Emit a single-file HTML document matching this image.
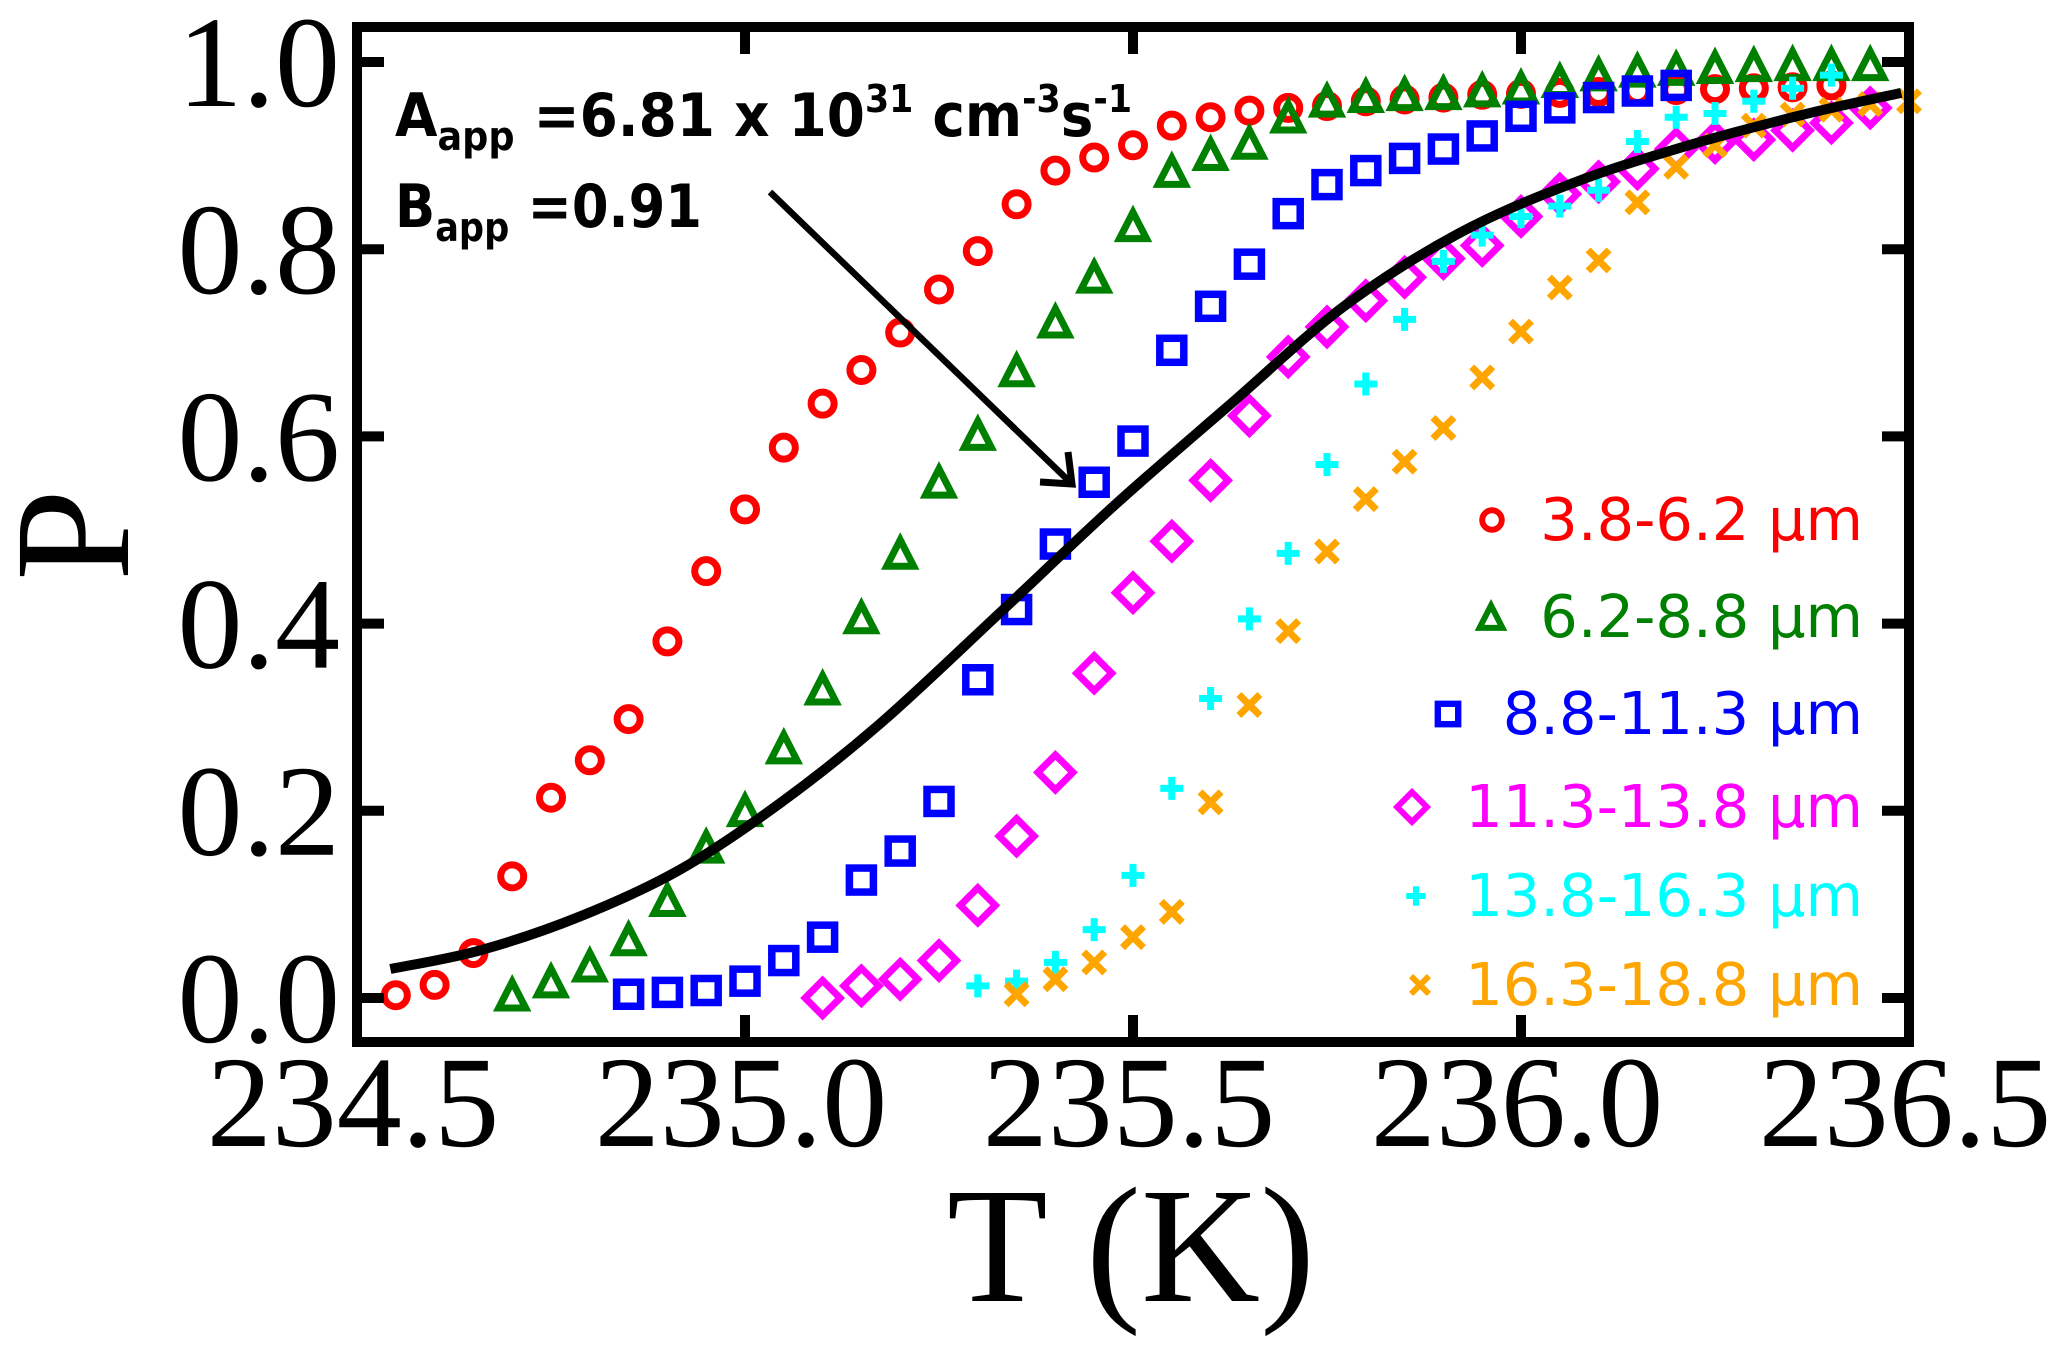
<!DOCTYPE html>
<html><head><meta charset="utf-8"><style>
html,body{margin:0;padding:0;background:#fff;}
svg{display:block;}
</style></head><body>
<svg id="chart" width="2067" height="1359" viewBox="0 0 2067 1359" xmlns="http://www.w3.org/2000/svg">
<rect x="0" y="0" width="2067" height="1359" fill="#fff"/>
<g id="marks"></g>
<g id="axes"></g>
<g font-family="'DejaVu Sans', 'Liberation Sans', sans-serif" font-weight="bold" fill="#000">
<text x="395" y="136" font-size="60" textLength="737" lengthAdjust="spacingAndGlyphs">A<tspan font-size="40" dy="14">app</tspan><tspan dy="-14"> =6.81 x 10</tspan><tspan font-size="38" dy="-24">31</tspan><tspan dy="24"> cm</tspan><tspan font-size="38" dy="-24">-3</tspan><tspan dy="24">s</tspan><tspan font-size="38" dy="-24">-1</tspan></text>
<text x="395" y="227" font-size="60" textLength="307" lengthAdjust="spacingAndGlyphs">B<tspan font-size="40" dy="14">app</tspan><tspan dy="-14"> =0.91</tspan></text>
</g>
<g stroke="#000" stroke-width="6.5" fill="none">
<line x1="770" y1="192" x2="1072" y2="484"/>
<polyline points="1040,482 1072,484 1068,452" stroke-width="7"/>
</g>
<g id="legend"></g>
</svg>
<script>
const categoriesLabels = ["3.8-6.2 μm","6.2-8.8 μm","8.8-11.3 μm","11.3-13.8 μm","13.8-16.3 μm","16.3-18.8 μm"];
const xTicks = [234.5,235.0,235.5,236.0,236.5];
const xTickLabels = ["234.5","235.0","235.5","236.0","236.5"];
const yTicks = [0,0.2,0.4,0.6,0.8,1.0];
const yTickLabels = ["0.0","0.2","0.4","0.6","0.8","1.0"];
const startRed = 234.55;
const redP = [0.003,0.014,0.048,0.13,0.214,0.254,0.298,0.381,0.456,0.522,0.588,0.635,0.671,0.711,0.757,0.798,0.848,0.884,0.898,0.911,0.932,0.941,0.948,0.951,0.953,0.958,0.96,0.962,0.965,0.966,0.967,0.968,0.969,0.97,0.971,0.972,0.973,0.975];
const startGreen = 234.7;
const greenP = [0.003,0.017,0.034,0.062,0.104,0.161,0.2,0.267,0.33,0.406,0.475,0.551,0.602,0.67,0.722,0.77,0.825,0.883,0.901,0.913,0.941,0.958,0.963,0.965,0.966,0.969,0.972,0.979,0.986,0.99,0.992,0.994,0.996,0.997,0.997,0.997];
const startBlue = 234.85;
const blueP = [0.004,0.006,0.008,0.018,0.04,0.065,0.126,0.157,0.21,0.34,0.415,0.485,0.551,0.595,0.692,0.739,0.784,0.838,0.869,0.884,0.897,0.907,0.921,0.942,0.951,0.962,0.969,0.975];
const startMagenta = 235.1;
const magentaP = [0.0,0.013,0.02,0.04,0.099,0.173,0.241,0.347,0.433,0.488,0.553,0.622,0.685,0.717,0.745,0.77,0.79,0.804,0.835,0.859,0.872,0.886,0.907,0.914,0.917,0.927,0.935,0.951];
const startCyan = 235.3;
const cyanP = [0.013,0.018,0.038,0.073,0.131,0.224,0.32,0.405,0.475,0.57,0.656,0.725,0.787,0.815,0.835,0.846,0.863,0.915,0.941,0.945,0.958,0.972,0.986];
const startOrange = 235.35;
const orangeP = [0.004,0.02,0.038,0.065,0.092,0.209,0.313,0.392,0.477,0.533,0.573,0.609,0.663,0.712,0.759,0.788,0.85,0.888,0.911,0.932,0.944,0.949,0.955,0.958];
const fitT = [234.543,234.659,234.787,234.916,235.045,235.174,235.329,235.477,235.625,235.772,235.92,236.068,236.216,236.365,236.49];
const fitP = [0.031,0.051,0.087,0.137,0.208,0.293,0.412,0.527,0.634,0.739,0.817,0.871,0.911,0.944,0.967];
const stepT = 0.05;

const NS = "http://www.w3.org/2000/svg";
const X0 = 357, XS = 776, Y0 = 998, YS = 936;
function xs(t){ return X0 + (t - 234.5) * XS; }
function ys(p){ return Y0 - p * YS; }
function mk(tag, attrs, parent){
  const e = document.createElementNS(NS, tag);
  for (const k in attrs) e.setAttribute(k, attrs[k]);
  parent.appendChild(e); return e;
}
const marks = document.getElementById('marks');
const axes = document.getElementById('axes');
const legend = document.getElementById('legend');
const colors = ["#ff0000","#008000","#0000ff","#ff00ff","#00ffff","#ffa500"];

function marker(type, cx, cy, parent, s){
  s = s || 1;
  let e;
  if (type === 0) { e = mk('circle', {cx:cx, cy:cy, r:11.5*s, fill:'none', stroke:colors[0], 'stroke-width':7*s}, parent); }
  else if (type === 1) { const h=13.5*s; e = mk('polygon', {points:`${cx},${cy-h} ${cx+h*1.0},${cy+h*0.95} ${cx-h*1.0},${cy+h*0.95}`, fill:'none', stroke:colors[1], 'stroke-width':7*s, 'stroke-linejoin':'miter'}, parent); }
  else if (type === 2) { const h=12*s; e = mk('rect', {x:cx-h, y:cy-h, width:2*h, height:2*h, fill:'none', stroke:colors[2], 'stroke-width':7.5*s}, parent); }
  else if (type === 3) { const h=17.5*s; e = mk('polygon', {points:`${cx},${cy-h} ${cx+h},${cy} ${cx},${cy+h} ${cx-h},${cy}`, fill:'none', stroke:colors[3], 'stroke-width':7*s}, parent); }
  else if (type === 4) { const h=11.5*s; e = mk('path', {d:`M${cx-h},${cy}H${cx+h}M${cx},${cy-h}V${cy+h}`, fill:'none', stroke:colors[4], 'stroke-width':7*s}, parent); }
  else { const h=10.5*s; e = mk('path', {d:`M${cx-h},${cy-h}L${cx+h},${cy+h}M${cx+h},${cy-h}L${cx-h},${cy+h}`, fill:'none', stroke:colors[5], 'stroke-width':7*s}, parent); }
  return e;
}

const series = [[startRed,redP],[startGreen,greenP],[startBlue,blueP],[startMagenta,magentaP],[startCyan,cyanP],[startOrange,orangeP]];
const seriesNames = ['series-3.8-6.2','series-6.2-8.8','series-8.8-11.3','series-11.3-13.8','series-13.8-16.3','series-16.3-18.8'];
series.forEach((s, i) => {
  const g = mk('g', {}, marks);
  
  
  s[1].forEach((p, j) => {
    const m = marker(i, xs(s[0] + j * stepT), ys(p), g);
    
    
  });
});

const pts = fitT.map((t, i) => [xs(t), ys(fitP[i])]);
let d = `M${pts[0][0]},${pts[0][1]}`;
for (let i = 0; i < pts.length - 1; i++) {
  const p0 = pts[Math.max(0, i-1)], p1 = pts[i], p2 = pts[i+1], p3 = pts[Math.min(pts.length-1, i+2)];
  const c1 = [p1[0] + (p2[0]-p0[0])/6, p1[1] + (p2[1]-p0[1])/6];
  const c2 = [p2[0] - (p3[0]-p1[0])/6, p2[1] - (p3[1]-p1[1])/6];
  d += `C${c1[0]},${c1[1]} ${c2[0]},${c2[1]} ${p2[0]},${p2[1]}`;
}
const fit = mk('path', {d:d, fill:'none', stroke:'#000', 'stroke-width':10}, marks);



const L = xs(234.5), R = xs(236.5), T = 27, B = 1042;
const frame = mk('rect', {x:L, y:T, width:R-L, height:B-T, fill:'none', stroke:'#000', 'stroke-width':10}, axes);



yTicks.forEach((v, i) => {
  const y = ys(v);
  const t1 = mk('line', {x1:L, x2:L+27, y1:y, y2:y, stroke:'#000', 'stroke-width':10}, axes);
  
  
  const t2 = mk('line', {x1:R, x2:R-27, y1:y, y2:y, stroke:'#000', 'stroke-width':10}, axes);
  
  
  const lb = mk('text', {x:340, y:y+44, 'text-anchor':'end', 'font-size':130, 'font-family':"'Liberation Serif', serif"}, axes);
  lb.textContent = yTickLabels[i];
  
  
});
xTicks.forEach((v, i) => {
  const x = xs(v);
  if (i > 0 && i < xTicks.length - 1) {
    const t1 = mk('line', {x1:x, x2:x, y1:B, y2:B-27, stroke:'#000', 'stroke-width':10}, axes);
    
    
    const t2 = mk('line', {x1:x, x2:x, y1:T, y2:T+27, stroke:'#000', 'stroke-width':10}, axes);
    
    
  }
  const lb = mk('text', {x:x - 4, y:1146, 'text-anchor':'middle', 'font-size':130, 'font-family':"'Liberation Serif', serif"}, axes);
  lb.textContent = xTickLabels[i];
  
  
});
const xt = mk('text', {x:1131, y:1301, 'text-anchor':'middle', 'font-size':165, 'font-family':"'Liberation Serif', serif"}, axes);
xt.textContent = 'T (K)';


const yt = mk('text', {x:0, y:0, 'text-anchor':'middle', 'font-size':165, 'font-family':"'Liberation Serif', serif", transform:'translate(128,535) rotate(-90)'}, axes);
yt.textContent = 'P';



const legBase = [540, 637, 734, 827, 916, 1005];
const legMarkerX = [1492, 1491, 1448, 1412, 1416, 1420];
categoriesLabels.forEach((lab, i) => {
  const g = mk('g', {}, legend);
  
  
  const m = marker(i, legMarkerX[i], legBase[i] - 20, g, 0.85);
  
  
  const tx = mk('text', {x:1863, y:legBase[i], 'text-anchor':'end', 'font-size':59, fill:colors[i], 'font-family':"'DejaVu Sans', 'Liberation Sans', sans-serif"}, g);
  tx.textContent = lab;
  
  
});
</script>
</body></html>
